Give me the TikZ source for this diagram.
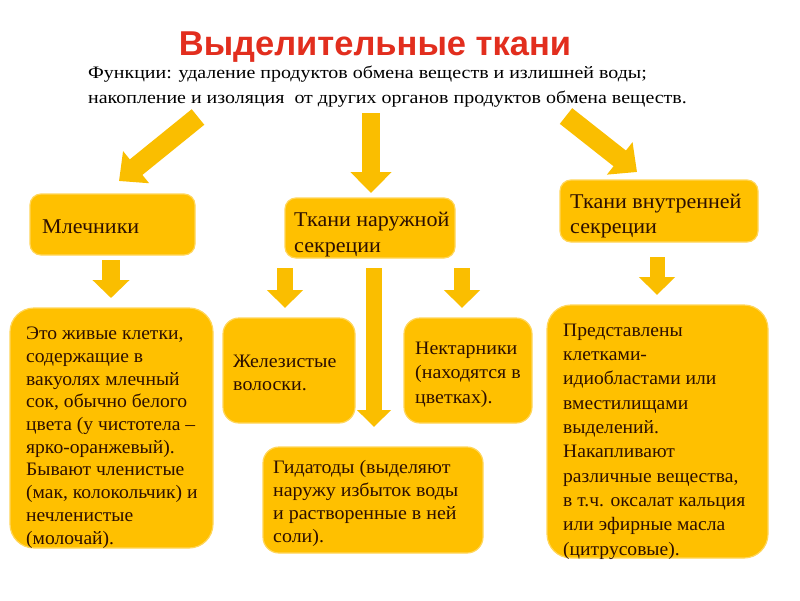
\documentclass[tikz,border=0pt]{standalone}
\usepackage{fontspec}
\setmainfont{Liberation Serif}
\newfontfamily\titlefont{Liberation Sans}
\newfontfamily\subfont[FakeStretch=1.14]{Liberation Serif}
\newfontfamily\topfont[FakeStretch=1.05]{Liberation Serif}
\newfontfamily\smallfont[FakeStretch=1.05]{Liberation Serif}
\newfontfamily\bigfont[FakeStretch=1.03]{Liberation Serif}
\usetikzlibrary{arrows.meta,calc}
\definecolor{boxfill}{RGB}{255,192,0}
\definecolor{boxedge}{RGB}{255,214,90}
\definecolor{arrowcol}{RGB}{250,190,0}
\definecolor{titlered}{RGB}{226,46,30}
\definecolor{txt}{RGB}{45,15,0}
\tikzset{
  box/.style={draw=boxedge, line width=1.2pt, fill=boxfill, rounded corners=11pt, inner sep=0pt},
  bigbox/.style={box, rounded corners=24pt},
  btext/.style={anchor=base west, align=left, inner sep=0pt, text=txt},
  barrow/.style n args={3}{draw=arrowcol, line width=#1, -{Triangle[width=#2, length=#3]}},
}
\begin{document}
\begin{tikzpicture}[x=1pt,y=-1pt]
\useasboundingbox[fill=white] (0,0) rectangle (800,600);

% title and subtitle
\node[anchor=base, inner sep=0pt, text=titlered, font=\titlefont\bfseries\fontsize{34.5}{38}\selectfont] (title) at (375,55) {Выделительные ткани};
\node[anchor=base west, inner sep=0pt, font=\subfont\fontsize{17.5}{20}\selectfont] (sub1) at (88,78) {Функции: удаление продуктов обмена веществ и излишней воды;};
\node[anchor=base west, inner sep=0pt, font=\subfont\fontsize{17.5}{20}\selectfont] (sub2) at (88,103) {накопление и изоляция\ \ от других органов продуктов обмена веществ.};

% boxes
\node[box, minimum width=165pt, minimum height=61pt] (mlech) at (112.5,224.5) {};
\node[box, minimum width=170pt, minimum height=60pt] (naruzh) at (370,228) {};
\node[box, minimum width=198pt, minimum height=62pt] (vnutr) at (659,211) {};
\node[bigbox, minimum width=203pt, minimum height=240pt] (mlechd) at (111.5,428) {};
\node[box, rounded corners=16pt, minimum width=132pt, minimum height=105pt] (zhelez) at (289,370.5) {};
\node[box, rounded corners=16pt, minimum width=128pt, minimum height=105pt] (nektar) at (468,370.5) {};
\node[box, rounded corners=16pt, minimum width=220pt, minimum height=106pt] (gidat) at (373,500) {};
\node[bigbox, minimum width=221pt, minimum height=253pt] (vnutrd) at (657.5,431.5) {};

% texts (anchor = baseline of the last line)
\node[btext, font=\topfont\fontsize{21}{26}\selectfont] (tmlech) at (42,233) {Млечники};
\node[btext, font=\topfont\fontsize{21}{26}\selectfont] (tnaruzh) at (294,252) {Ткани наружной\\секреции};
\node[btext, font=\topfont\fontsize{21}{25}\selectfont] (tvnutr) at (570,233) {Ткани внутренней\\секреции};
\node[btext, font=\bigfont\fontsize{19}{22.7}\selectfont] (tmlechd) at (26,544) {Это живые клетки,\\содержащие в\\вакуолях млечный\\сок, обычно белого\\цвета (у чистотела –\\ярко-оранжевый).\\Бывают членистые\\(мак, колокольчик) и\\нечленистые\\(молочай).};
\node[btext, font=\smallfont\fontsize{19}{23}\selectfont] (tzhelez) at (233,390) {Железистые\\волоски.};
\node[btext, font=\smallfont\fontsize{19}{24.5}\selectfont] (tnektar) at (415,403) {Нектарники\\(находятся в\\цветках).};
\node[btext, font=\smallfont\fontsize{19}{23}\selectfont] (tgidat) at (273,542) {Гидатоды (выделяют\\наружу избыток воды\\и растворенные в ней\\соли).};
\node[btext, font=\bigfont\fontsize{19}{24.3}\selectfont] (tvnutrd) at (563,555) {Представлены\\клетками-\\идиобластами или\\вместилищами\\выделений.\\Накапливают\\различные вещества,\\в т.ч. оксалат кальция\\или эфирные масла\\(цитрусовые).};

% arrow end points
\coordinate (a1s) at (198,117); \coordinate (a1e) at (119,181);
\coordinate (a2s) at (371,113); \coordinate (a2e) at (371,193);
\coordinate (a3s) at (566,116); \coordinate (a3e) at (637,172);
\coordinate (a4s) at (111,260); \coordinate (a4e) at (111,298);
\coordinate (a5s) at (285,268); \coordinate (a5e) at (285,308);
\coordinate (a6s) at (462,268); \coordinate (a6e) at (462,308);
\coordinate (a7s) at (374,268); \coordinate (a7e) at (374,427);
\coordinate (a8s) at (657,257); \coordinate (a8e) at (657,295);

% arrows
\draw[barrow={20pt}{40pt}{22pt}] (a1s) -- (a1e);
\draw[barrow={18pt}{40pt}{21pt}] (a2s) -- (a2e);
\draw[barrow={20pt}{40pt}{22pt}] (a3s) -- (a3e);
\draw[barrow={18pt}{36pt}{18pt}] (a4s) -- (a4e);
\draw[barrow={16pt}{35pt}{18pt}] (a5s) -- (a5e);
\draw[barrow={16pt}{35pt}{18pt}] (a6s) -- (a6e);
\draw[barrow={16pt}{33pt}{17pt}] (a7s) -- (a7e);
\draw[barrow={15pt}{35pt}{18pt}] (a8s) -- (a8e);
\end{tikzpicture}
\end{document}
